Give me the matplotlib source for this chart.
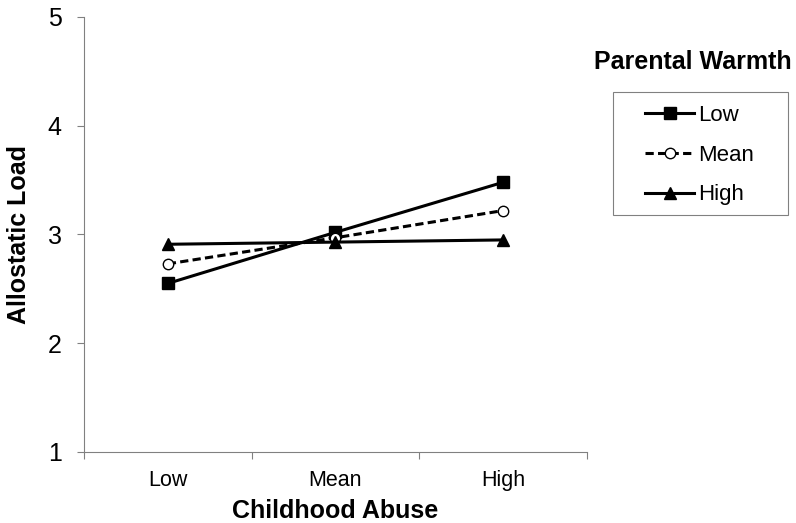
#! /usr/bin/env python3
# -*- coding: utf-8 -*-
import matplotlib
matplotlib.use('Agg')
import matplotlib.pyplot as plt
from matplotlib.patches import Rectangle
from matplotlib.ticker import FixedLocator

plt.rcParams['font.family'] = ['Liberation Sans', 'DejaVu Sans']

categories = ['Low', 'Mean', 'High']
warmth_low = [2.55, 3.02, 3.48]
warmth_mean = [2.73, 2.97, 3.22]
warmth_high = [2.91, 2.93, 2.95]
series_names = ['Low', 'Mean', 'High']
y_ticks = [1, 2, 3, 4, 5]


def main():
    fig = plt.figure(figsize=(7.96, 5.23), dpi=100)
    ax = fig.add_axes([0.1055, 0.1358, 0.6319, 0.8317])
    x = list(range(len(categories)))

    ax.plot(x, warmth_low, '-', color='black', lw=2.2, marker='s', ms=8,
            mfc='black', mec='black', label=series_names[0])
    ax.plot(x, warmth_mean, '--', color='black', lw=2.2, marker='o', ms=7.5,
            mfc='white', mec='black', mew=1.0, label=series_names[1], dashes=(2.7, 1.4))
    ax.plot(x, warmth_high, '-', color='black', lw=2.2, marker='^', ms=8,
            mfc='black', mec='black', label=series_names[2])

    ax.set_xlim(-0.5, 2.5)
    ax.set_ylim(1, 5)
    ax.set_yticks(y_ticks)
    ax.set_yticklabels([str(t) for t in y_ticks], fontsize=18)
    ax.set_xticks(x)
    ax.set_xticklabels(categories, fontsize=15.5)
    ax.xaxis.set_minor_locator(FixedLocator([-0.5, 0.5, 1.5, 2.5]))
    ax.tick_params(axis='x', which='major', length=0, pad=13)
    ax.tick_params(axis='x', which='minor', length=5, color='#808080', width=0.8)
    ax.tick_params(axis='y', length=5, color='#808080', width=0.8, pad=11)

    for side in ['top', 'right']:
        ax.spines[side].set_visible(False)
    for side in ['left', 'bottom']:
        ax.spines[side].set_color('#808080')
        ax.spines[side].set_linewidth(0.8)

    ax.set_xlabel('Childhood Abuse', fontsize=18, fontweight='bold', labelpad=6)
    ax.set_ylabel('Allostatic Load', fontsize=18, fontweight='bold', labelpad=12)

    fig.text(0.870, 0.881, 'Parental Warmth', fontsize=18, fontweight='bold',
             ha='center', va='center')
    # legend frame as in the reference
    fig.patches.append(Rectangle((0.770, 0.589), 0.22, 0.235, transform=fig.transFigure,
                                 fill=False, ec='#808080', lw=0.8))
    ax.legend(loc='center', bbox_to_anchor=(0.879, 0.7035),
              bbox_transform=fig.transFigure, fontsize=16, frameon=False,
              handlelength=2.2, handletextpad=0.2, labelspacing=0.85)

    fig.savefig('out.png', dpi=100)
    return


if __name__ == '__main__':
    main()
